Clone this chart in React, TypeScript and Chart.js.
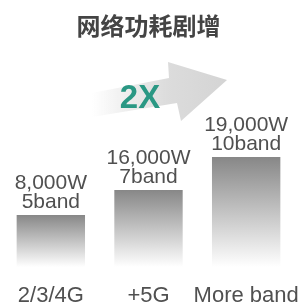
import React, { useEffect, useRef } from "react";
import { Chart, registerables } from "chart.js";

Chart.register(...registerables);

const categories = ["2/3/4G", "+5G", "More band"];
const powerWatts = [8000, 16000, 19000];
const bandCounts = [5, 7, 10];
// visual bar heights as drawn in the graphic (not proportional to watts)
const barHeights = [52, 77, 110];
const titleText = "网络功耗剧增";
const multiplierLabel = "2X";

const TEXT_COLOR = "#505050";
const LABEL_FONT = "'Liberation Sans', Arial, sans-serif";

const arrowPlugin = {
  id: "growthArrow",
  beforeDatasetsDraw(chart: any) {
    const ctx = chart.ctx as CanvasRenderingContext2D;
    ctx.save();
    const pts: [number, number][] = [
      [92, 117],
      [92, 93],
      [169, 78],
      [168, 62],
      [227, 80],
      [181, 121],
      [177, 103],
    ];
    const g = ctx.createLinearGradient(92, 0, 227, 0);
    g.addColorStop(0, "rgba(218,218,218,0)");
    g.addColorStop(0.55, "rgba(220,220,220,1)");
    g.addColorStop(1, "rgba(212,212,212,1)");
    ctx.fillStyle = g;
    ctx.beginPath();
    pts.forEach(([x, y], i) => (i ? ctx.lineTo(x, y) : ctx.moveTo(x, y)));
    ctx.closePath();
    ctx.fill();

    ctx.fillStyle = "#2a9884";
    ctx.font = `bold 33px ${LABEL_FONT}`;
    ctx.textAlign = "center";
    ctx.textBaseline = "alphabetic";
    ctx.fillText(multiplierLabel, 140, 108);
    ctx.restore();
  },
};

const valueLabelPlugin = {
  id: "valueLabels",
  afterDatasetsDraw(chart: any) {
    const ctx = chart.ctx as CanvasRenderingContext2D;
    const meta = chart.getDatasetMeta(0);
    ctx.save();
    ctx.fillStyle = TEXT_COLOR;
    ctx.font = `21px ${LABEL_FONT}`;
    ctx.textAlign = "center";
    ctx.textBaseline = "alphabetic";
    meta.data.forEach((el: any, i: number) => {
      const power = powerWatts[i].toLocaleString("en-US") + "W";
      const band = bandCounts[i] + "band";
      ctx.fillText(power, el.x, el.y - 26);
      ctx.fillText(band, el.x, el.y - 7);
    });
    ctx.restore();
  },
};

export default function App() {
  const canvasRef = useRef<HTMLCanvasElement | null>(null);

  useEffect(() => {
    document.body.style.margin = "0";
    const canvas = canvasRef.current;
    if (!canvas) return;
    const chart = new Chart(canvas, {
      type: "bar",
      data: {
        labels: categories,
        datasets: [
          {
            data: barHeights,
            backgroundColor: (c: any) => {
              const ch = c.chart;
              const area = ch.chartArea;
              if (!area || c.raw == null) return "#999";
              const top = ch.scales.y.getPixelForValue(c.raw);
              const g = ch.ctx.createLinearGradient(0, top, 0, area.bottom);
              g.addColorStop(0, "#878787");
              g.addColorStop(0.55, "#c9c9c9");
              g.addColorStop(1, "#ffffff");
              return g;
            },
            borderWidth: 0,
            categoryPercentage: 1,
            barPercentage: 0.7,
          },
        ],
      },
      options: {
        responsive: false,
        animation: false,
        layout: { padding: { left: 2, right: 7, top: 0, bottom: 0 } },
        plugins: {
          legend: { display: false },
          tooltip: { enabled: false },
          title: {
            display: true,
            text: titleText,
            color: "#444444",
            font: { family: "'Noto Sans CJK SC', sans-serif", size: 24, weight: "bold" },
            padding: { top: 11, bottom: 27 },
          },
        },
        scales: {
          y: { display: false, min: 0, max: 200 },
          x: {
            grid: { display: false, drawTicks: false },
            border: { display: false },
            ticks: {
              color: TEXT_COLOR,
              font: { family: LABEL_FONT, size: 22 },
              padding: 16,
              maxRotation: 0,
              minRotation: 0,
              autoSkip: false,
            },
            afterFit: (scale: any) => {
              scale.height = 39;
              scale.paddingLeft = 0;
              scale.paddingRight = 0;
            },
          },
        },
      },
      plugins: [arrowPlugin, valueLabelPlugin],
    });
    return () => chart.destroy();
  }, []);

  return (
    <div style={{ width: 302, height: 306 }}>
      <canvas ref={canvasRef} width={302} height={306} />
    </div>
  );
}
